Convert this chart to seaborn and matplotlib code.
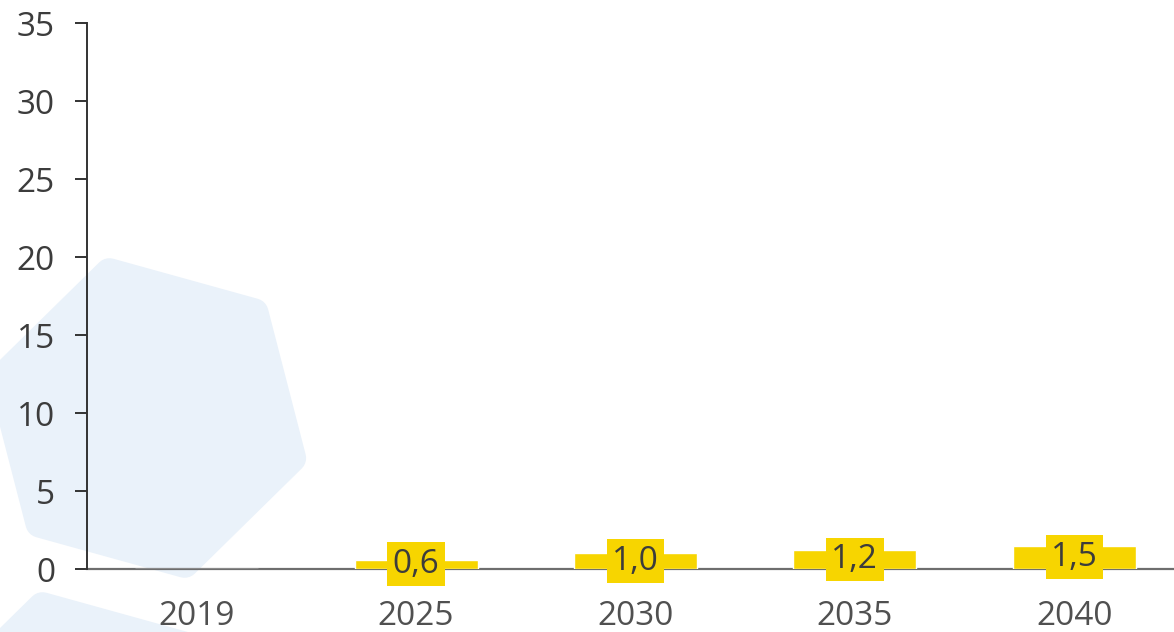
import numpy as np
import matplotlib
matplotlib.use("Agg")
import matplotlib.pyplot as plt
from matplotlib.patches import Polygon
import seaborn as sns

# Data
years = ["2019", "2025", "2030", "2035", "2040"]
values = [0.0, 0.6, 1.0, 1.2, 1.5]
y_ticks = [0, 5, 10, 15, 20, 25, 30, 35]

BAR_COLOR = "#F7D500"
TEXT_COLOR = "#3C3C3C"
HEX_COLOR = "#EAF2FA"

sns.set_theme(style="white")
plt.rcParams["font.family"] = ["Open Sans", "DejaVu Sans"]

W, H = 1174, 632
fig = plt.figure(figsize=(W / 100, H / 100), dpi=100)
fig.patch.set_facecolor("white")


def hexagon(cx, cy, r, start_deg):
    # vertices in pixel space (y measured from top), converted to figure fractions
    pts = []
    for k in range(6):
        a = np.deg2rad(start_deg + 60 * k)
        x = cx + r * np.cos(a)
        y = cy - r * np.sin(a)
        pts.append((x / W, 1 - y / H))
    return pts


# Decorative rounded hexagons in the background
for cx, cy in [(147, 418), (80, 752)]:
    poly = Polygon(hexagon(cx, cy, 150, 104.5), closed=True, transform=fig.transFigure,
                   facecolor=HEX_COLOR, edgecolor=HEX_COLOR, linewidth=21,
                   joinstyle="round", zorder=-5)
    fig.patches.append(poly)

# plot area runs slightly past the right edge so the last category sits near it
ax = fig.add_axes([87 / W, 63 / H, 1097 / W, (569 - 23) / H])
ax.patch.set_alpha(0)

sns.barplot(x=years, y=values, order=years, color=BAR_COLOR, saturation=1,
            width=0.56, ax=ax, zorder=3)

labels = [f"{v:.1f}".replace(".", ",") if v > 0 else "" for v in values]
ax.bar_label(ax.containers[0], labels=labels, label_type="center",
             fontsize=24, color=TEXT_COLOR, zorder=4,
             bbox=dict(boxstyle="square,pad=0.16", facecolor=BAR_COLOR, edgecolor="none"))

ax.set_xlim(-0.5, 4.5)
ax.set_ylim(0, 35)
ax.set_yticks(y_ticks)
ax.set_xlabel("")
ax.set_ylabel("")

for side in ["top", "right"]:
    ax.spines[side].set_visible(False)
ax.spines["left"].set_color("#333333")
ax.spines["left"].set_linewidth(1.4)
ax.spines["bottom"].set_color("#6E6E6E")
ax.spines["bottom"].set_linewidth(1.6)
ax.spines["left"].set_zorder(5)

ax.tick_params(axis="y", left=True, length=9, width=1.4, color="#333333",
               labelsize=24, labelcolor=TEXT_COLOR, pad=14)
ax.tick_params(axis="x", bottom=False, labelsize=24, labelcolor="#505050", pad=16)

fig.savefig("out.png", dpi=100)
